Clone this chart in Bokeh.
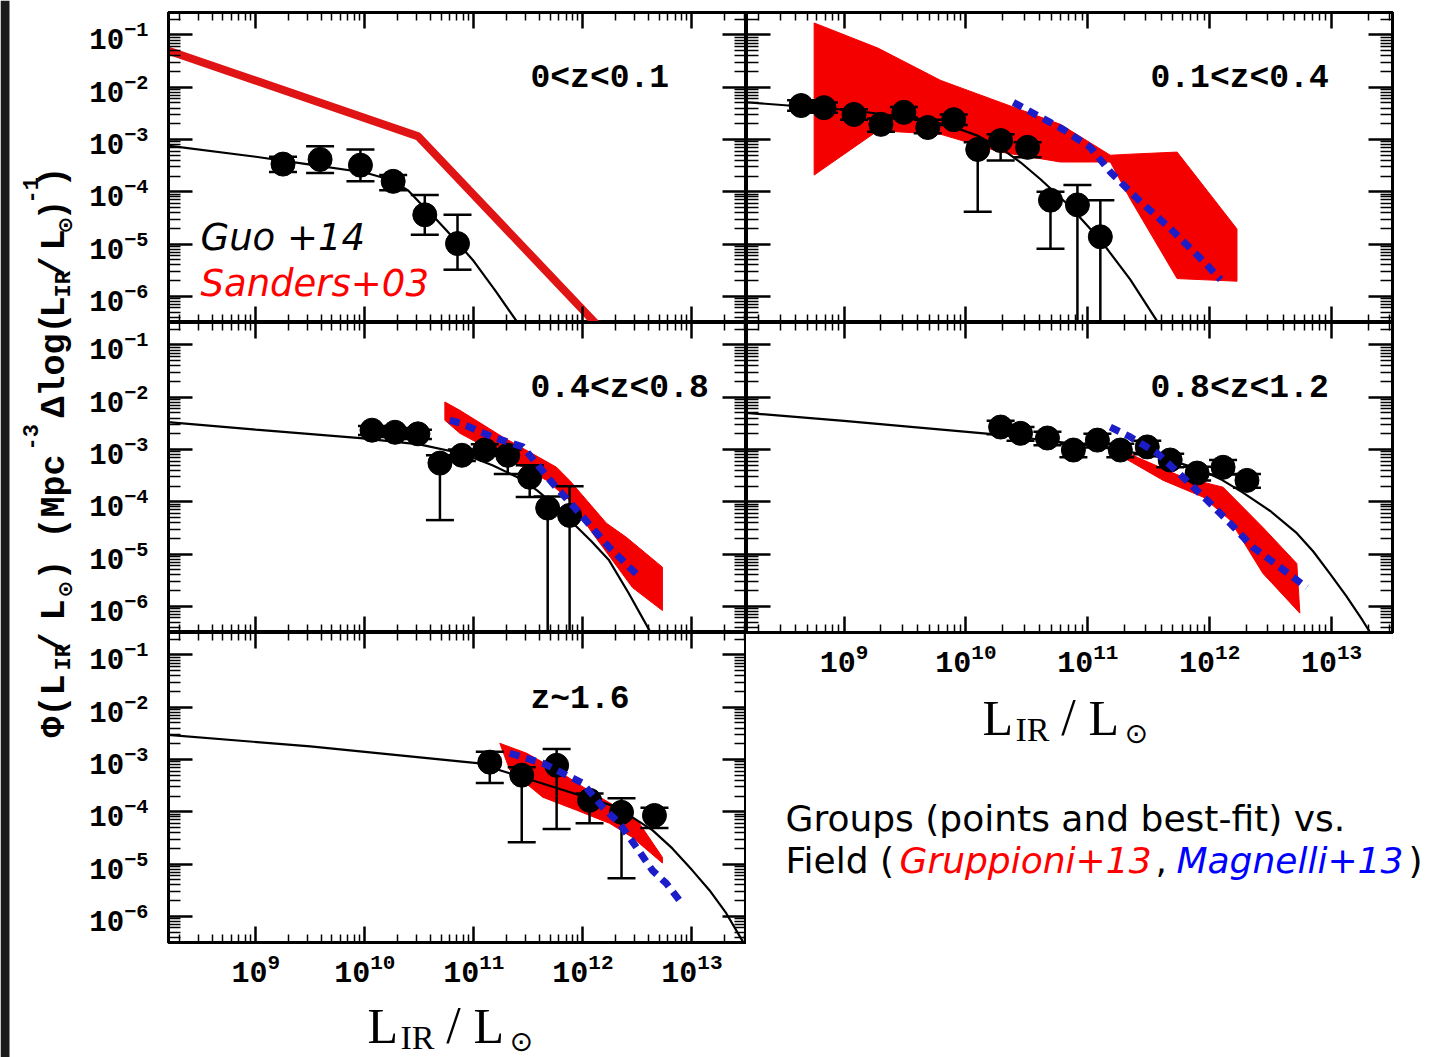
import numpy as np
from bokeh.plotting import figure
from bokeh.models import (Range1d, LogAxis, FixedTicker, Label, BoxAnnotation,
                          LogTickFormatter, CustomJSTickFormatter)
from bokeh.layouts import row, column
from bokeh.embed import file_html
from bokeh.resources import INLINE

# ---------------- data: log10 values ----------------
X_LIM = [8.2, 13.5]
Y_LIM = [-6.5, -0.57]
X_TICKS = [9, 10, 11, 12, 13]
Y_TICKS = [-6, -5, -4, -3, -2, -1]
PANEL_LABELS = ["0<z<0.1", "0.1<z<0.4", "0.4<z<0.8", "0.8<z<1.2", "z~1.6"]

# panel 1 : 0<z<0.1
p1_x = [9.25, 9.59, 9.96, 10.26, 10.55, 10.85]
p1_y = [-3.47, -3.38, -3.49, -3.80, -4.44, -4.99]
p1_hi = [-3.33, -3.13, -3.19, -3.68, -4.06, -4.44]
p1_lo = [-3.62, -3.64, -3.80, -3.97, -4.82, -5.49]
p1_fit_x = [8.1, 9.0, 9.5, 10.0, 10.25, 10.4, 10.5, 10.62, 10.75, 10.88, 11.0, 11.2, 11.4, 11.6]
p1_fit_y = [-3.09, -3.33, -3.48, -3.63, -3.78, -3.98, -4.20, -4.45, -4.74, -5.04, -5.33, -5.90, -6.50, -7.10]
sanders_x = [8.2, 10.49, 12.3]
sanders_y = [-1.30, -2.94, -6.92]

# panel 2 : 0.1<z<0.4
p2_x = [8.648, 8.836, 9.082, 9.303, 9.491, 9.687, 9.900, 10.097, 10.285, 10.506, 10.694, 10.915, 11.103]
p2_y = [-2.35, -2.39, -2.52, -2.71, -2.48, -2.77, -2.62, -3.19, -3.02, -3.15, -4.16, -4.25, -4.86]
p2_hi = [-2.25, -2.29, -2.42, -2.60, -2.38, -2.62, -2.52, -3.05, -2.90, -3.05, -4.00, -3.87, -4.16]
p2_lo = [-2.45, -2.49, -2.62, -2.85, -2.58, -2.88, -2.72, -4.38, -3.40, -3.34, -5.09, -9.0, -9.0]
p2_fit_x = [8.1, 9.057, 9.6, 9.876, 10.1, 10.285, 10.45, 10.612, 10.858, 11.103, 11.349, 11.570, 11.75]
p2_fit_y = [-2.27, -2.44, -2.60, -2.74, -2.93, -3.16, -3.44, -3.76, -4.29, -4.92, -5.68, -6.48, -7.10]
g2_up_x = [8.755, 9.278, 9.794, 10.285, 10.776, 11.185, 11.349, 11.733, 12.224]
g2_up_y = [-0.77, -1.25, -1.87, -2.29, -2.71, -3.30, -3.28, -3.24, -4.71]
g2_lo_x = [8.755, 9.278, 9.794, 10.285, 10.776, 11.185, 11.349, 11.733, 12.224]
g2_lo_y = [-3.68, -2.83, -2.90, -3.24, -3.43, -3.43, -4.14, -5.66, -5.71]
m2_x = [10.39, 10.80, 11.02, 11.185, 11.41, 11.68, 11.95, 12.09]
m2_y = [-2.29, -2.81, -3.15, -3.62, -4.14, -4.71, -5.33, -5.68]

# panel 3 : 0.4<z<0.8
p3_x = [10.066, 10.277, 10.487, 10.689, 10.890, 11.100, 11.311, 11.512, 11.677, 11.878]
p3_y = [-2.63, -2.67, -2.70, -3.26, -3.11, -3.01, -3.11, -3.53, -4.12, -4.26]
p3_hi = [-2.55, -2.59, -2.62, -3.11, -3.00, -2.90, -3.00, -3.30, -3.90, -3.70]
p3_lo = [-2.72, -2.76, -2.80, -4.35, -3.22, -3.12, -3.47, -3.91, -9.0, -9.0]
p3_fit_x = [8.1, 9.0, 9.96, 10.5, 10.9, 11.17, 11.4, 11.58, 11.75, 11.91, 12.08, 12.24, 12.42, 12.61, 12.8]
p3_fit_y = [-2.46, -2.62, -2.78, -2.90, -3.08, -3.30, -3.53, -3.78, -4.08, -4.41, -4.76, -5.12, -5.75, -6.46, -7.20]
g3_up_x = [10.734, 10.872, 11.265, 11.759, 11.878, 12.216, 12.399, 12.729]
g3_up_y = [-2.09, -2.25, -2.76, -3.34, -3.59, -4.41, -4.68, -5.25]
g3_lo_x = [10.734, 10.872, 11.329, 11.668, 11.878, 12.088, 12.454, 12.729]
g3_lo_y = [-2.44, -2.69, -3.20, -3.59, -3.97, -4.60, -5.64, -6.08]
m3_x = [10.78, 10.872, 11.17, 11.45, 11.72, 11.97, 12.24, 12.52]
m3_y = [-2.44, -2.49, -2.76, -2.95, -3.64, -4.22, -4.87, -5.44]

# panel 4 : 0.8<z<1.2
p4_x = [10.285, 10.448, 10.669, 10.882, 11.079, 11.267, 11.488, 11.676, 11.897, 12.11, 12.306]
p4_y = [-2.57, -2.69, -2.78, -3.01, -2.82, -3.01, -2.95, -3.20, -3.45, -3.34, -3.59]
p4_hi = [-2.45, -2.57, -2.66, -2.89, -2.70, -2.89, -2.83, -3.08, -3.33, -3.20, -3.47]
p4_lo = [-2.71, -2.83, -2.92, -3.15, -2.96, -3.15, -3.09, -3.34, -3.59, -3.48, -3.73]
p4_fit_x = [8.1, 9.0, 9.71, 10.285, 11.10, 11.6, 11.92, 12.1, 12.27, 12.5, 12.715, 12.85, 12.985, 13.12, 13.255, 13.45]
p4_fit_y = [-2.28, -2.45, -2.60, -2.72, -2.95, -3.15, -3.38, -3.58, -3.82, -4.18, -4.60, -4.95, -5.37, -5.80, -6.27, -7.00]
g4_up_x = [11.2, 11.406, 11.782, 12.11, 12.437, 12.715, 12.74]
g4_up_y = [-2.90, -3.15, -3.53, -3.72, -4.49, -5.18, -6.13]
g4_lo_x = [11.2, 11.29, 11.619, 11.946, 12.167, 12.437, 12.74]
g4_lo_y = [-2.90, -3.15, -3.59, -3.91, -4.35, -5.37, -6.13]
m4_x = [11.185, 11.349, 11.570, 11.782, 11.979, 12.167, 12.355, 12.576, 12.797]
m4_y = [-2.57, -2.76, -3.07, -3.53, -3.97, -4.41, -4.87, -5.25, -5.64]

# panel 5 : z~1.6
p5_x = [11.146, 11.439, 11.759, 12.061, 12.354, 12.656]
p5_y = [-3.05, -3.30, -3.11, -3.78, -4.01, -4.07]
p5_hi = [-2.85, -3.15, -2.80, -3.65, -3.74, -3.92]
p5_lo = [-3.45, -4.58, -4.33, -4.22, -5.27, -4.31]
p5_fit_x = [8.1, 9.5, 11.03, 11.6, 12.3, 12.637, 12.82, 13.003, 13.16, 13.314, 13.46, 13.6]
p5_fit_y = [-2.51, -2.75, -3.07, -3.44, -3.90, -4.35, -4.70, -5.12, -5.50, -5.94, -6.46, -7.00]
g5_up_x = [11.238, 11.485, 11.759, 12.088, 12.363, 12.518, 12.729]
g5_up_y = [-2.69, -2.88, -3.20, -3.64, -3.97, -4.22, -4.87]
g5_lo_x = [11.238, 11.329, 11.631, 11.942, 12.244, 12.454, 12.729]
g5_lo_y = [-2.69, -3.20, -3.72, -3.97, -4.22, -4.49, -4.98]
m5_x = [11.329, 11.631, 11.997, 12.18, 12.335, 12.491, 12.637, 12.765, 12.884]
m5_y = [-2.88, -3.07, -3.45, -3.91, -4.22, -4.68, -5.12, -5.37, -5.69]

# ---------------- styling ----------------
RED_BAND = "#f50000"
RED_LINE = "#e01414"
BLUE = "#1c1cc8"
MONO = "Liberation Mono"
SANS = "DejaVu Sans"
SERIF = "Liberation Serif"
W = 1433
H = 1057
BASE_SHIFT = 0.26   # baseline correction, in font sizes


def lin(a):
    return [10.0 ** v for v in a]


XMAJ = [10.0 ** k for k in X_TICKS]
XMIN_T = [m * 10.0 ** k for k in range(8, 14) for m in range(2, 10)
          if X_LIM[0] <= np.log10(m * 10.0 ** k) <= X_LIM[1]]
YMAJ = [10.0 ** k for k in Y_TICKS]
YMIN_T = [m * 10.0 ** k for k in range(-7, 0) for m in range(2, 10)
          if Y_LIM[0] <= np.log10(m * 10.0 ** k) <= Y_LIM[1]]


def style_axis(ax, major, minor, tin, min_in, show, size, standoff):
    ax.ticker = FixedTicker(ticks=major, minor_ticks=minor)
    ax.axis_line_color = "black"
    ax.axis_line_width = 3
    ax.major_tick_in = tin
    ax.major_tick_out = 0
    ax.minor_tick_in = min_in
    ax.minor_tick_out = 0
    ax.major_tick_line_width = 2.5
    ax.minor_tick_line_width = 1.5
    ax.major_tick_line_color = "black"
    ax.minor_tick_line_color = "black"
    if show:
        ax.formatter = LogTickFormatter()
        ax.major_label_text_font = MONO
        ax.major_label_text_font_style = "bold"
        ax.major_label_text_font_size = size
        ax.major_label_text_color = "black"
        ax.major_label_standoff = standoff
    else:
        ax.formatter = CustomJSTickFormatter(code="return ''")
        ax.major_label_text_font_size = "1px"
        ax.major_label_standoff = 0


def panel(width, height, mbl, mbr, mbt, mbb, xlab, ylab):
    p = figure(width=width, height=height, x_axis_type="log", y_axis_type="log",
               x_range=Range1d(10 ** X_LIM[0], 10 ** X_LIM[1]),
               y_range=Range1d(10 ** Y_LIM[0], 10 ** Y_LIM[1]),
               toolbar_location=None, output_backend="svg",
               min_border_left=mbl, min_border_right=mbr,
               min_border_top=mbt, min_border_bottom=mbb)
    p.add_layout(LogAxis(), "above")
    p.add_layout(LogAxis(), "right")
    p.grid.visible = False
    p.outline_line_color = "black"
    p.outline_line_width = 3
    p.background_fill_color = "white"
    p.border_fill_color = "white"
    style_axis(p.below[0], XMAJ, XMIN_T, 16, 8, xlab, "30px", 10)
    style_axis(p.above[0], XMAJ, XMIN_T, 16, 8, False, "1px", 0)
    style_axis(p.left[0], YMAJ, YMIN_T, 24, 12, ylab, "29px", 20)
    style_axis(p.right[0], YMAJ, YMIN_T, 24, 12, False, "1px", 0)
    return p


def blank(width, height, mbl=0):
    p = figure(width=width, height=height, x_range=Range1d(0, 1), y_range=Range1d(0, 1),
               x_axis_location=None, y_axis_location=None, toolbar_location=None,
               output_backend="svg", min_border=0, min_border_left=mbl)
    p.grid.visible = False
    p.outline_line_color = None
    p.background_fill_color = "white"
    p.border_fill_color = "white"
    return p


def draw(p, px, py, phi, plo, fx, fy, bands=None, mag=None):
    if bands is not None:
        ux, uy, lx, ly = bands
        p.patch(lin(ux + lx[::-1]), lin(uy + ly[::-1]), fill_color=RED_BAND,
                line_color=RED_BAND, line_width=1)
    p.line(lin(fx), lin(fy), line_color="black", line_width=2.2)
    p.segment(lin(px), lin(phi), lin(px), lin(plo), line_color="black", line_width=2.5)
    p.scatter(lin(px), lin(phi), marker="dash", size=28, line_color="black", line_width=2.5)
    p.scatter(lin(px), lin(plo), marker="dash", size=28, line_color="black", line_width=2.5)
    p.scatter(lin(px), lin(py), marker="circle", size=24, fill_color="black", line_color="black")
    if mag is not None:
        mx, my = mag
        p.line(lin(mx), lin(my), line_color=BLUE, line_width=7, line_dash="10 7")


def text(p, frame, X, Y, s, size, font=SANS, color="black", style="normal",
         align="left"):
    fx0, fyb = frame
    p.add_layout(Label(x=X - fx0, y=fyb - (Y - BASE_SHIFT * size),
                       x_units="screen", y_units="screen",
                       text=s, text_font=font, text_font_size=f"{size}px",
                       text_font_style=style, text_color=color,
                       text_align=align, text_baseline="alphabetic"))


def vtext(p, frame, X, Y, s, size, font=MONO):
    # rotated (reads bottom to top); X is the baseline position, Y the start
    fx0, fyb = frame
    p.add_layout(Label(x=X - BASE_SHIFT * size - fx0, y=fyb - Y,
                       x_units="screen", y_units="screen",
                       text=s, text_font=font, text_font_size=f"{size}px",
                       text_font_style="bold", text_color="black", angle=np.pi / 2,
                       text_align="left", text_baseline="alphabetic"))


# ---------------- layout geometry (page pixels) ----------------
YLAB_W = 78
LEFT_FW = 746 - YLAB_W
RIGHT_FW = W - 746
BL_BOTTOM = 992
MR_BOTTOM = 682

TL = panel(LEFT_FW, 322, 168 - YLAB_W, 0, 12, 0, False, True)
ML = panel(LEFT_FW, 310, 168 - YLAB_W, 0, 0, 0, False, True)
BL = panel(LEFT_FW, BL_BOTTOM - 632, 168 - YLAB_W, 0, 0, BL_BOTTOM - 942, True, True)
BLT = blank(LEFT_FW, H - BL_BOTTOM, mbl=168 - YLAB_W)
TR = panel(RIGHT_FW, 322, 0, RIGHT_FW - 646, 12, 0, False, False)
MR = panel(RIGHT_FW, MR_BOTTOM - 322, 0, RIGHT_FW - 646, 0, MR_BOTTOM - 632, True, False)
RT = blank(RIGHT_FW, H - MR_BOTTOM)

F_TL = (168, 322)
F_ML = (168, 632)
F_BL = (168, 942)
F_BLT = (168, H)
F_TR = (746, 322)
F_MR = (746, 632)
F_RT = (746, H)

TL.line(lin(sanders_x), lin(sanders_y), line_color=RED_LINE, line_width=8)
draw(TL, p1_x, p1_y, p1_hi, p1_lo, p1_fit_x, p1_fit_y)
draw(TR, p2_x, p2_y, p2_hi, p2_lo, p2_fit_x, p2_fit_y,
     bands=(g2_up_x, g2_up_y, g2_lo_x, g2_lo_y), mag=(m2_x, m2_y))
draw(ML, p3_x, p3_y, p3_hi, p3_lo, p3_fit_x, p3_fit_y,
     bands=(g3_up_x, g3_up_y, g3_lo_x, g3_lo_y), mag=(m3_x, m3_y))
draw(MR, p4_x, p4_y, p4_hi, p4_lo, p4_fit_x, p4_fit_y,
     bands=(g4_up_x, g4_up_y, g4_lo_x, g4_lo_y), mag=(m4_x, m4_y))
draw(BL, p5_x, p5_y, p5_hi, p5_lo, p5_fit_x, p5_fit_y,
     bands=(g5_up_x, g5_up_y, g5_lo_x, g5_lo_y), mag=(m5_x, m5_y))

text(TL, F_TL, 530, 87, PANEL_LABELS[0], 33, font=MONO, style="bold")
text(TR, F_TR, 1150, 87, PANEL_LABELS[1], 33, font=MONO, style="bold")
text(ML, F_ML, 530, 397, PANEL_LABELS[2], 33, font=MONO, style="bold")
text(MR, F_MR, 1150, 397, PANEL_LABELS[3], 33, font=MONO, style="bold")
text(BL, F_BL, 530, 708, PANEL_LABELS[4], 33, font=MONO, style="bold")

text(TL, F_TL, 200, 247, "Guo +14", 37, style="italic")
text(TL, F_TL, 200, 293, "Sanders+03", 37, color="#ff0000", style="italic")


def xtitle(p, frame, X, Y):
    text(p, frame, X, Y, "L", 50, font=SERIF)
    text(p, frame, X + 33, Y + 8, "IR", 34, font=SERIF)
    text(p, frame, X + 86, Y + 1, "/", 52, font=SERIF, align="center")
    text(p, frame, X + 106, Y, "L", 50, font=SERIF)
    text(p, frame, X + 142, Y + 10, "\u2299", 28, font=SANS)


xtitle(BLT, F_BLT, 367, 1038)
xtitle(RT, F_RT, 982, 730)

text(RT, F_RT, 785, 827, "Groups (points and best-fit) vs.", 36)
text(RT, F_RT, 785, 869, "Field (", 36)
text(RT, F_RT, 899, 869, "Gruppioni+13", 36, color="#ff0000", style="italic")
text(RT, F_RT, 1155, 869, ",", 36)
text(RT, F_RT, 1176, 869, "Magnelli+13", 36, color="#0000ff", style="italic")
text(RT, F_RT, 1408, 869, ")", 36)

YL = blank(YLAB_W, H)
YL.add_layout(BoxAnnotation(left=0, right=9, left_units="screen", right_units="screen",
                            fill_color="#1b1b1b", fill_alpha=1.0, line_alpha=0))
F_YL = (0, H)
ypieces = [
    ("\u03a6(L", 737, 64, 35, MONO),
    ("IR", 670, 70, 22, MONO),
    ("/", 653, 64, 35, MONO),
    ("L", 620, 64, 35, MONO),
    ("\u2299", 597, 70, 20, SANS),
    (") (Mpc", 580, 64, 35, MONO),
    ("-3", 450, 36, 22, MONO),
    ("\u0394log(", 417, 64, 35, MONO),
    ("L", 317, 64, 35, MONO),
    ("IR", 297, 70, 22, MONO),
    ("/", 277, 64, 35, MONO),
    ("L", 250, 64, 35, MONO),
    ("\u2299", 233, 70, 20, SANS),
    (")", 220, 64, 35, MONO),
    ("-1", 203, 36, 22, MONO),
    (")", 187, 64, 35, MONO),
]
for s, ystart, xb, size, font in ypieces:
    vtext(YL, F_YL, xb, ystart, s, size, font=font)

layout = row(YL, column(TL, ML, BL, BLT), column(TR, MR, row(RT)))
open("out.html", "w").write(file_html(layout, INLINE))
